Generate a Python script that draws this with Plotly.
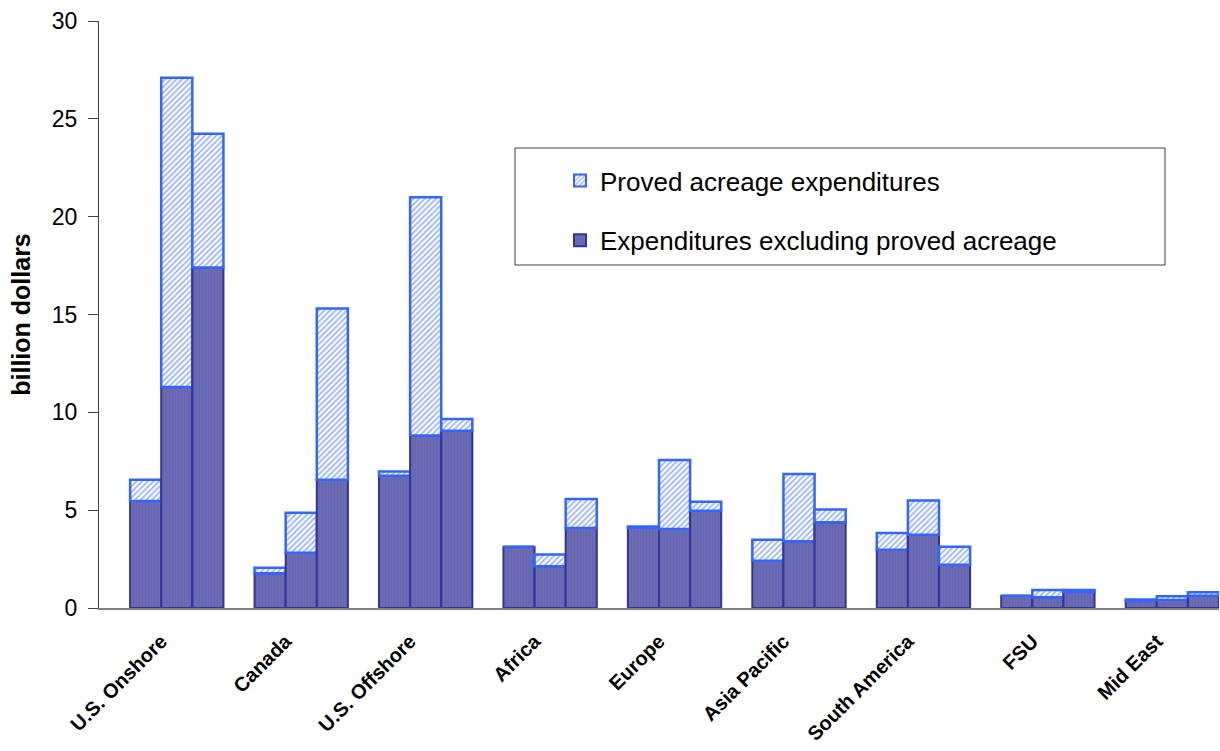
import plotly.graph_objects as go

regions = ["U.S. Onshore", "Canada", "U.S. Offshore", "Africa", "Europe",
           "Asia Pacific", "South America", "FSU", "Mid East"]
years = ["Year 1", "Year 2", "Year 3"]

# Expenditures excluding proved acreage (billion dollars), per year
excl_y1 = [5.47, 1.77, 6.76, 3.13, 4.10, 2.42, 2.98, 0.63, 0.37]
excl_y2 = [11.30, 2.82, 8.81, 2.13, 4.04, 3.41, 3.75, 0.55, 0.41]
excl_y3 = [17.40, 6.56, 9.06, 4.09, 4.97, 4.38, 2.21, 0.82, 0.63]

# Proved acreage expenditures (billion dollars), per year
proved_y1 = [1.09, 0.29, 0.21, 0.00, 0.07, 1.07, 0.85, 0.00, 0.07]
proved_y2 = [15.80, 2.05, 12.18, 0.60, 3.52, 3.44, 1.74, 0.37, 0.19]
proved_y3 = [6.84, 8.75, 0.60, 1.48, 0.46, 0.65, 0.92, 0.10, 0.17]

y_ticks = [0, 5, 10, 15, 20, 25, 30]

excl = [excl_y1, excl_y2, excl_y3]
proved = [proved_y1, proved_y2, proved_y3]

DARK_FILL = "#6B6BB5"
DARK_LINE = "#333399"
LIGHT_LINE = "#3366FF"

fig = go.Figure()
bw = 0.25
for k in range(3):
    off = -0.25 + bw * k
    fig.add_trace(go.Bar(
        x=regions, y=excl[k], name="Expenditures excluding proved acreage",
        offset=off, width=bw, legendrank=2, showlegend=(k == 0),
        legendgroup="excl",
        marker=dict(color=DARK_FILL, line=dict(color=DARK_LINE, width=2),
                    pattern=dict(shape="|", fgcolor="#6060AC", bgcolor=DARK_FILL,
                                 size=3, solidity=0.3)),
        hovertemplate="%{x}<br>" + years[k] + ": %{y}<extra></extra>",
    ))
    fig.add_trace(go.Bar(
        x=regions, y=proved[k], base=excl[k], name="Proved acreage expenditures",
        offset=off, width=bw, legendrank=1, showlegend=(k == 0),
        legendgroup="proved",
        marker=dict(color="white", line=dict(color=LIGHT_LINE, width=2.5),
                    pattern=dict(shape="/", fgcolor=LIGHT_LINE, bgcolor="white",
                                 size=4, solidity=0.45)),
        hovertemplate="%{x}<br>" + years[k] + ": %{y}<extra></extra>",
    ))

# legend frame
fig.add_shape(type="rect", xref="paper", yref="paper",
              x0=(515 - 99) / 1120, x1=(1165 - 99) / 1120,
              y0=(608 - 265) / 587, y1=(608 - 148) / 587,
              line=dict(color="#404040", width=1), fillcolor="rgba(0,0,0,0)")

fig.update_layout(
    width=1220, height=751,
    margin=dict(l=99, r=1, t=21, b=143),
    paper_bgcolor="white", plot_bgcolor="white",
    barmode="overlay",
    font=dict(family="Liberation Sans, Arial, sans-serif", color="black"),
    legend=dict(x=(560 - 99) / 1120, y=(608 - 157) / 587, xanchor="left", yanchor="top",
                bgcolor="rgba(0,0,0,0)", font=dict(size=26),
                tracegroupgap=23, traceorder="grouped", itemsizing="constant"),
    showlegend=True,
)
fig.update_xaxes(
    range=[-0.5, 8.5], showline=True, linecolor="#808080", linewidth=1.5,
    tickangle=-45, tickfont=dict(size=20, weight="bold"), ticks="",
    showgrid=False, zeroline=False, ticklabelstandoff=12, automargin=False,
)
fig.update_yaxes(
    range=[0, 30], tickvals=y_ticks, showline=True, linecolor="#404040", linewidth=1,
    ticks="outside", ticklen=10, tickcolor="#404040", tickfont=dict(size=23),
    showgrid=False, zeroline=False, ticklabelstandoff=6, automargin=False,
    title=dict(text="billion dollars", font=dict(size=25, weight="bold"), standoff=14),
)

fig.write_html("out.html")
